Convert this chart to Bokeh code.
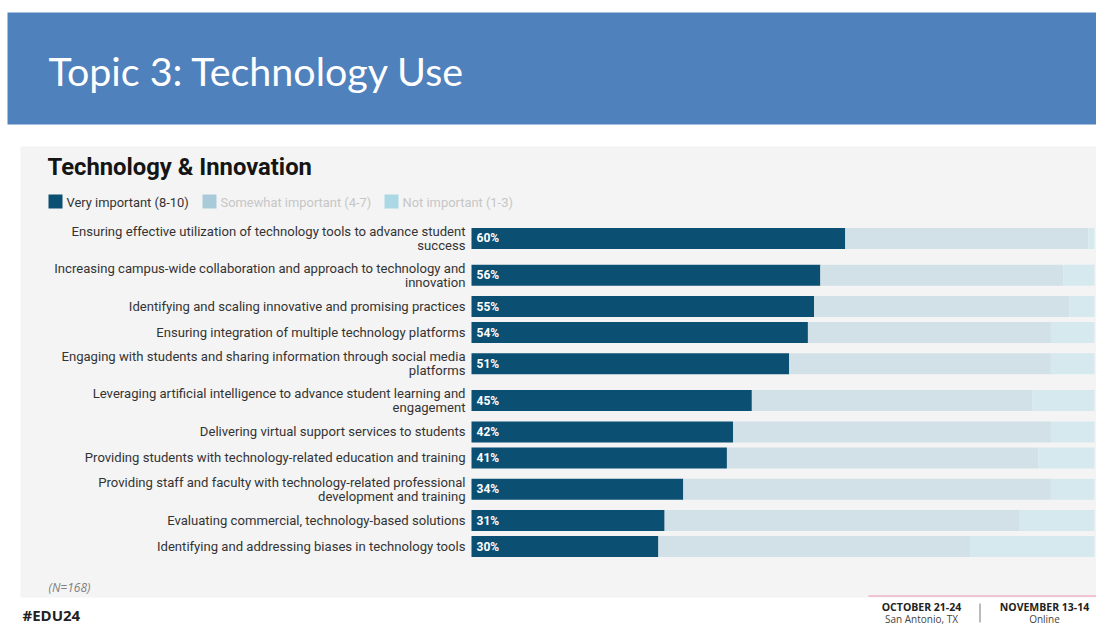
from bokeh.plotting import figure
from bokeh.models import Range1d
from bokeh.core.properties import value
from bokeh.embed import file_html
from bokeh.resources import INLINE

# ---------------- data ----------------
categories = [
    "Ensuring effective utilization of technology tools to advance student\nsuccess",
    "Increasing campus-wide collaboration and approach to technology and\ninnovation",
    "Identifying and scaling innovative and promising practices",
    "Ensuring integration of multiple technology platforms",
    "Engaging with students and sharing information through social media\nplatforms",
    "Leveraging artificial intelligence to advance student learning and\nengagement",
    "Delivering virtual support services to students",
    "Providing students with technology-related education and training",
    "Providing staff and faculty with technology-related professional\ndevelopment and training",
    "Evaluating commercial, technology-based solutions",
    "Identifying and addressing biases in technology tools",
]
very = [60, 56, 55, 54, 51, 45, 42, 41, 34, 31, 30]
somewhat = [39, 39, 41, 39, 42, 45, 51, 50, 59, 57, 50]
not_imp = [1, 5, 4, 7, 7, 10, 7, 9, 7, 12, 20]
series = ["very", "somewhat", "not_imp"]
legend_labels = ["Very important (8-10)", "Somewhat important (4-7)", "Not important (1-3)"]

# ---------------- layout / style ----------------
W, H = 1096, 626
BAR_L, BAR_R = 471, 1094
ROW_UNIT = 26.0          # px of a one-line row
TWO_LINE = 36.7 / 26.0   # height of a two-line row in row units
ROW_TOP = 219.6          # px where the first row starts
COLORS = ["#0b4f72", "#d2e1e7", "#d6e9ef"]
LEG_COLORS = ["#0b4f72", "#a9cbd9", "#acd8e6"]

p = figure(width=W, height=H, output_backend="svg", toolbar_location=None,
           x_range=Range1d(0, W), y_range=Range1d(H, 0),
           x_axis_location=None, y_axis_location=None, min_border=0)
p.grid.visible = False
p.outline_line_color = None
p.background_fill_color = "white"
p.border_fill_color = "white"

px_per_pct = (BAR_R - BAR_L) / 100.0
p.extra_x_ranges = {"pct": Range1d(-BAR_L / px_per_pct, (W - BAR_L) / px_per_pct)}
p.extra_y_ranges = {"rows": Range1d((H - ROW_TOP) / ROW_UNIT, -ROW_TOP / ROW_UNIT)}

# row centres from the number of label lines
heights = [TWO_LINE if c.count("\n") else 1.0 for c in categories]
centers = []
acc = 0.0
for h in heights:
    centers.append(acc + h / 2)
    acc += h

# banner
p.quad(left=[7], right=[W], top=[12], bottom=[124], fill_color="#4f81bd", line_color=None)
p.text(x=[48], y=[70], text=["Topic 3: Technology Use"], text_baseline="middle",
       text_font=value("Lato"), text_font_size="39.4px", text_color="white")

# panel
p.quad(left=[20], right=[W], top=[146], bottom=[597], fill_color="#f4f4f4", line_color=None)
p.text(x=[47], y=[166], text=["Technology & Innovation"], text_baseline="middle",
       text_font=value("Roboto"), text_font_style="bold", text_font_size="23.8px",
       text_color="#151515")

# legend
leg_x = [48, 202, 384]
leg_text_colors = ["#333333", "#c6c6c6", "#c6c6c6"]
p.quad(left=leg_x, right=[x + 14 for x in leg_x], top=[194] * 3, bottom=[208] * 3,
       fill_color=LEG_COLORS, line_color=None)
p.text(x=[x + 18 for x in leg_x], y=[201.5] * 3, text=legend_labels, text_baseline="middle",
       text_font=value("Roboto"), text_font_size="12.9px", text_color=leg_text_colors)

# stacked bars
data = {"cat": centers, "very": very, "somewhat": somewhat, "not_imp": not_imp}
p.hbar_stack(series, y="cat", height=21 / ROW_UNIT, color=COLORS, source=data,
             line_color=None, x_range_name="pct", y_range_name="rows")

# category labels
p.text(x=[0] * len(categories), y=centers, text=categories, x_offset=-6,
       x_range_name="pct", y_range_name="rows", text_align="right", text_baseline="middle",
       text_font=value("Roboto"), text_font_size="13.1px", text_color="#333333",
       text_line_height=0.93)

# value labels
p.text(x=[0] * len(very), y=centers, text=[f"{v}%" for v in very], x_offset=5,
       x_range_name="pct", y_range_name="rows", text_baseline="middle",
       text_font=value("Roboto"), text_font_style="bold", text_font_size="12px",
       text_color="white")

# footer
p.text(x=[48], y=[587], text=["(N=168)"], text_baseline="middle",
       text_font=value("Open Sans"), text_font_style="italic", text_font_size="12px",
       text_color="#808080")
p.text(x=[22], y=[614], text=["#EDU24"], text_baseline="middle",
       text_font=value("Open Sans"), text_font_style="bold", text_font_size="15px",
       text_color="#222222")
p.segment(x0=[868], x1=[W], y0=[595.5], y1=[595.5], line_color="#f2b3c4", line_width=1.5)
p.segment(x0=[979.5], x1=[979.5], y0=[603], y1=[622], line_color="#777777", line_width=1)
p.text(x=[921, 1044], y=[606, 606], text=["OCTOBER 21-24", "NOVEMBER 13-14"],
       text_align="center", text_baseline="middle", text_font=value("Open Sans"),
       text_font_style="bold", text_font_size="10.5px", text_color="#222222")
p.text(x=[921, 1044], y=[618, 618], text=["San Antonio, TX", "Online"],
       text_align="center", text_baseline="middle", text_font=value("Open Sans"),
       text_font_size="10px", text_color="#444444")

open("out.html", "w").write(file_html(p, INLINE))
